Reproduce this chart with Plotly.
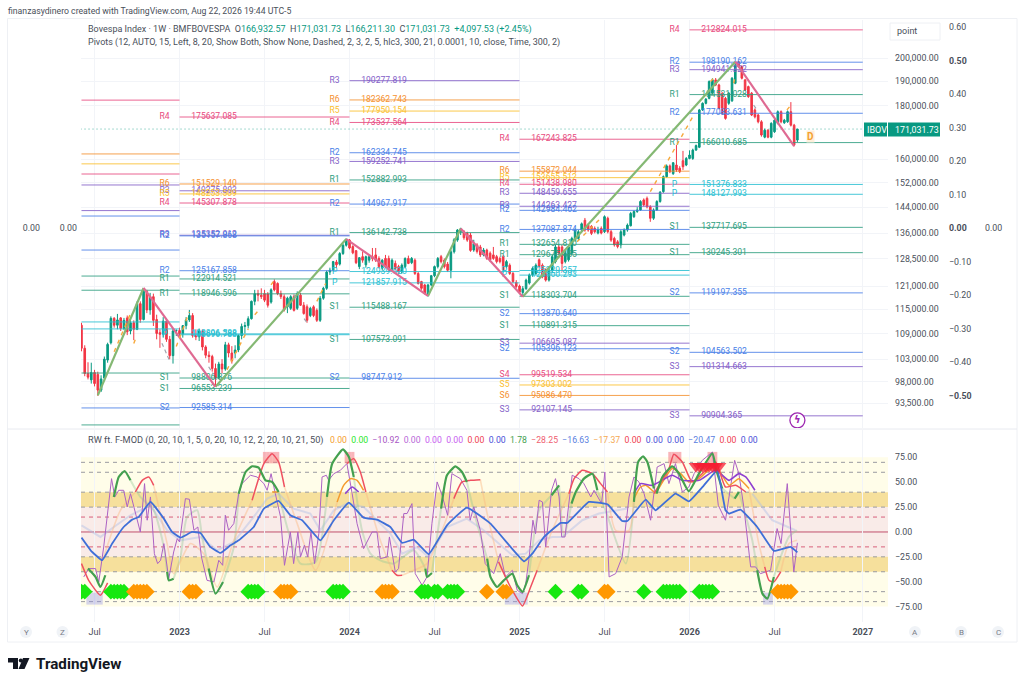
import pandas as pd
import plotly.graph_objects as go

# ---- weekly candles, in thousands of points, one row = 10 bars
opens_k = [111.0,105.5,99.8,98.4,100.0,99.6,96.2,98.8,102.8,106.8,
    112.7,111.0,112.8,110.2,112.8,109.6,111.6,110.0,116.4,112.4,
    119.6,114.8,118.2,112.4,109.2,108.8,112.0,107.6,103.8,109.6,
    109.7,108.9,110.9,112.3,113.4,108.5,108.2,109.6,105.8,103.9,
    103.6,100.9,98.8,101.9,100.8,106.3,104.4,104.4,105.1,108.5,
    110.7,110.9,112.6,117.0,119.0,118.6,119.0,118.9,116.8,122.2,
    121.7,119.0,118.2,115.6,115.2,118.2,115.2,118.6,116.0,115.6,
    113.4,115.6,114.7,112.2,117.8,120.4,124.8,125.3,127.6,127.0,
    130.0,132.4,133.9,132.0,130.8,126.3,129.1,126.8,128.1,129.1,
    129.6,128.6,125.9,128.6,128.6,125.6,127.2,126.3,124.8,126.3,
    128.6,127.4,128.1,124.4,122.2,121.3,118.6,121.3,123.8,126.3,
    129.1,128.1,127.0,125.3,130.5,133.9,136.5,136.4,135.9,135.4,
    131.0,132.5,131.9,129.6,131.0,130.1,129.6,129.1,128.6,129.1,
    126.3,126.7,124.4,122.0,121.0,119.3,120.3,121.8,124.0,124.4,
    128.2,126.7,125.3,122.6,125.3,127.7,131.9,131.9,127.7,128.2,
    130.1,134.0,134.4,136.9,139.9,138.4,138.0,137.4,136.0,137.4,
    136.4,140.5,136.4,134.4,133.4,132.5,135.4,136.9,138.2,141.0,
    142.6,143.1,146.3,146.8,144.1,140.5,143.1,145.8,149.0,154.0,
    157.7,155.0,158.0,156.9,159.5,158.0,160.3,160.3,163.3,164.3,
    178.4,181.0,183.0,185.1,190.6,188.5,185.0,183.0,181.0,182.0,
    189.2,198.4,196.3,190.6,187.8,185.1,178.4,176.4,173.8,168.0,
    170.6,168.0,170.0,173.2,177.7,173.4,173.8,177.7,172.5,166.93257]
highs_k = [111.6,106.2,102.3,102.2,100.6,100.2,99.4,103.6,106.8,113.2,
    113.0,113.8,113.0,112.8,113.4,113.0,112.2,117.0,117.0,120.4,
    120.0,119.2,119.0,113.6,110.0,113.0,112.6,108.4,110.2,110.0,
    110.4,111.0,113.0,114.8,114.0,110.0,110.2,110.0,106.2,104.8,
    104.0,102.0,102.4,103.0,107.0,106.8,106.0,106.2,108.8,111.4,
    111.8,113.2,117.2,120.0,120.0,120.4,120.0,119.4,120.4,122.8,
    122.0,119.8,118.8,118.2,118.6,118.8,119.6,119.2,116.8,116.2,
    115.6,116.0,115.2,118.4,120.8,125.2,126.0,127.9,128.2,130.4,
    132.8,134.4,134.2,132.4,131.0,129.0,130.6,129.4,129.6,131.6,
    131.6,129.2,128.4,129.6,129.4,128.6,128.0,126.8,127.2,128.9,
    129.4,129.0,128.6,124.8,122.4,121.6,121.6,124.0,126.6,129.0,
    129.6,128.6,127.6,131.0,134.5,137.2,137.6,136.9,136.4,136.0,
    134.0,133.0,132.5,131.6,131.4,130.6,131.9,129.6,129.1,129.6,
    128.2,127.2,124.8,122.6,121.4,121.0,123.0,124.4,126.3,127.2,
    128.6,127.2,125.8,125.8,129.6,132.5,132.5,132.4,130.6,132.5,
    134.9,137.4,136.9,139.2,140.6,138.9,138.4,138.0,137.9,138.0,
    141.4,141.0,136.9,134.9,133.9,136.9,137.4,138.9,142.5,143.0,
    144.0,146.2,146.8,147.4,144.6,143.6,146.2,149.2,154.4,158.2,
    158.2,159.0,165.1,157.6,163.0,160.8,163.2,163.8,165.3,178.8,
    181.4,183.1,190.4,191.3,191.4,189.0,185.6,183.6,185.6,191.8,
    198.0,198.6,196.8,191.0,188.2,185.6,179.0,176.9,174.4,171.2,
    171.0,173.6,174.9,178.2,178.2,174.9,178.2,181.5,173.0,171.03173]
lows_k = [104.8,99.2,98.5,97.6,97.0,95.0,95.8,98.4,102.2,106.4,
    110.4,110.0,109.6,109.8,108.6,108.8,107.4,109.8,111.6,112.2,
    114.0,113.6,110.8,107.6,105.6,108.0,107.0,103.0,102.0,108.4,
    108.0,108.0,110.0,111.8,108.0,107.4,107.2,105.0,103.2,102.2,
    100.2,97.0,98.6,99.8,100.4,103.4,102.0,103.2,104.6,107.6,
    109.0,110.2,112.4,116.0,117.0,117.6,116.8,115.4,116.4,119.6,
    118.6,117.6,114.4,114.0,114.8,114.4,114.8,115.8,113.6,111.6,
    113.0,113.0,111.8,111.8,117.4,120.0,124.0,125.0,126.0,126.6,
    129.6,132.0,131.2,129.8,127.0,125.6,127.4,126.0,127.4,127.8,
    127.6,125.8,125.2,125.8,124.8,125.0,125.2,124.2,124.4,125.8,
    127.0,127.0,124.0,121.4,120.0,118.8,118.2,121.0,123.4,125.8,
    127.2,125.8,124.8,123.1,130.0,133.4,135.4,134.0,133.4,130.5,
    130.5,130.0,129.0,129.2,128.2,127.6,128.2,127.2,127.2,125.0,
    125.8,124.0,121.8,120.5,118.9,118.3,120.0,121.4,123.5,124.0,
    125.8,123.1,122.2,122.2,124.9,127.2,129.6,124.9,127.2,127.7,
    129.6,133.4,133.9,136.4,136.4,136.4,135.4,135.9,135.6,135.6,
    136.0,135.9,133.4,132.0,131.5,131.5,135.0,136.4,138.0,140.6,
    142.2,142.8,144.2,143.6,139.4,140.0,142.8,145.4,148.6,153.6,
    155.2,154.6,155.6,155.2,156.3,157.6,160.0,159.8,163.0,164.0,
    178.0,180.6,182.6,184.6,188.0,178.6,176.4,174.6,180.4,181.6,
    188.8,195.8,190.8,186.0,183.2,176.0,175.1,173.2,168.2,167.6,
    167.6,167.6,169.6,172.8,173.2,173.0,173.4,172.0,164.6,166.2113]
closes_k = [105.5,99.8,99.0,100.0,97.6,96.2,98.6,103.0,106.4,112.7,
    111.0,112.3,110.2,112.2,109.4,111.6,110.0,116.4,112.4,119.6,
    114.8,118.2,112.2,109.0,108.8,112.0,107.6,103.8,109.6,109.7,
    108.9,110.9,112.3,113.4,108.5,108.2,109.6,105.8,103.9,103.6,
    100.9,98.8,101.9,100.8,106.3,104.4,102.6,105.1,108.5,110.7,
    110.9,112.6,117.0,119.0,118.6,118.2,117.3,116.0,120.0,120.0,
    119.0,118.2,114.8,117.8,118.2,114.7,119.0,116.0,113.9,112.2,
    115.2,113.4,112.2,117.8,120.4,124.8,125.3,127.7,126.8,130.0,
    132.4,133.9,131.6,130.2,127.4,128.8,128.1,129.1,129.1,128.6,
    128.1,126.3,128.1,126.3,125.3,128.1,125.8,124.8,126.7,128.6,
    127.2,128.6,124.4,121.7,120.4,119.0,121.3,123.8,126.3,128.6,
    127.7,126.3,125.3,130.5,134.0,136.9,137.1,134.6,133.9,130.9,
    132.9,130.6,129.6,131.0,128.6,128.2,128.6,127.7,127.7,125.3,
    127.7,124.4,122.2,120.9,119.4,120.3,122.6,124.0,125.8,126.7,
    126.3,123.5,122.6,125.3,129.1,131.9,130.1,127.2,130.1,131.9,
    134.4,136.9,136.4,138.8,136.9,136.9,135.9,136.4,137.0,136.0,
    141.0,136.4,133.9,132.5,132.0,136.4,136.9,138.4,142.0,142.6,
    143.1,145.8,144.7,144.1,140.5,143.1,145.8,148.8,154.0,157.7,
    155.7,158.8,156.3,155.7,157.4,160.3,161.5,163.3,164.9,178.4,
    181.0,182.7,189.9,190.6,188.5,179.0,177.0,175.1,185.1,191.3,
    197.0,196.3,191.3,186.4,183.7,176.4,175.7,173.8,168.8,170.6,
    168.0,173.2,174.4,177.7,173.8,174.4,177.7,172.5,165.1,171.03173]

# zigzag
zig_bars = [5, 19, 41, 81, 106, 116, 135, 200, 218]
zig_k = [95.1, 120.5, 96.9, 134.2, 118.4, 137.4, 118.2, 198.4, 164.7]

# little dashed guides around the candles
orange_bars = [10,15,None,16,17,None,29,33,None,44.5,51,None,53,54.7,None,58,59,None,72,74.7,None,
    151.6,159.2,None,174,187.3,None,192.4,193.9,None,199.5,200,None,215.8,217]
orange_k = [104.7,113.9,None,106.6,108.6,None,105.9,114.3,None,100.6,110.1,None,113.6,115.2,None,121.3,122.6,None,117,121.7,None,
    133.4,140.9,None,149,176.4,None,189.9,192,None,189.2,192.1,None,178.4,180.3]
gray_bars = [24.6,27.1,None,38.9,40.4,None,65,66.4,None,68.1,69.1,None,205.6,206.7]
gray_k = [106.7,102.4,None,101.3,99.6,None,118.6,117.3,None,112.6,111.5,None,180.3,178.4]

# yearly pivots: level tag, value, per block
block_2022 = ["2022-06-06", "2023-01-02"]
levels_2022 = ["R4","R6","R5","R4","R3","R3","R2","R2","R1","R1","P","P","S1","S2","S1"]
values_2022 = [182300,161900,158400,154900,151200,142900,141200,131000,123700,119900,111800,110100,99900,92500,89100]

block_2023 = ["2023-01-02", "2024-01-01"]
levels_2023 = ["R4","R6","R3","R5","R4","R3","R2","R2","R1","R1","P","P","S1","S1","S2"]
values_2023 = [175637.085,151529.140,149275.803,148253.509,145307.878,135352.012,135157.868,125167.858,122914.521,118946.596,
    108896.588,108696.788,98806.876,96553.239,92585.314]

block_2024 = ["2024-01-01", "2024-12-30"]
levels_2024 = ["R3","R6","R5","R4","R2","R3","R1","R2","R1","P","P","S1","S1","S2"]
values_2024 = [190277.819,182362.743,177950.154,173537.564,162334.745,159252.741,152882.993,144967.917,136142.738,
    124939.620,121857.915,115488.167,107573.091,98747.912]

block_2025 = ["2024-12-30", "2025-12-29"]
levels_2025 = ["R4","R6","R5","R4","R3","R3","R2","R2","R1","R1","P","P","S1","S2","S1","S3","S2","S4","S5","S6","S3"]
values_2025 = [167243.825,155872.044,153655.512,151438.980,148459.655,144263.427,142984.462,137087.874,132654.810,129675.485,
    125229.357,123960.293,118303.704,113870.640,110891.315,106695.087,105396.123,99519.534,97303.002,95086.470,92107.145]

block_2026 = ["2025-12-29", "2027-01-04"]
levels_2026 = ["R5","R4","R2","R3","R1","R2","R1","P","P","S1","S1","S2","S2","S3","S3"]
values_2026 = [218451.000,212824.015,198190.162,194941.322,184531.028,177083.631,166010.685,151376.833,148127.993,
    137717.695,130245.301,119197.355,104563.502,101314.663,90904.365]

# ---- oscillator
blue_bars = [0,2.8,6.3,9.4,12.9,15.5,17.5,21.1,25.2,27.7,30.3,33.8,36.4,39.4,42.5,45.6,48.1,52.7,55.8,60.3,63.9,67.5,73.1,77.2,81.8,
    86.3,90.4,94.5,98.1,101.6,106.2,111.8,117.9,125.1,131.7,135.4,137.9,141.5,146.6,148.6,155.2,160.9,165.4,167,172.6,175.6,
    181.7,185.8,190.4,194.5,197,198.1,201.6,206.7,211.8,216.9,219]
blue_vals = [-5.7,-18.4,-28.4,-11.7,5,12.4,15.1,30.2,13.4,0,-5.7,0,-1,-15,-21.1,-13.4,-8.4,5,23.5,31.2,16.8,11.8,-8.4,11.8,29.5,
    14.4,12.4,5,-11,-7.7,-22.4,6.7,24.5,8.4,-16.7,-29.5,-21.8,-5,9.1,9.1,30.2,27.8,11,11,32.5,21.8,
    38.6,30.8,46.9,62,21.8,18.4,22.5,5,-19,-15,-20.47]

purple_bars = [0.7,2.2,4.3,5.3,6.8,9.2,10.2,11.4,12.9,14,15,16.2,18,19.3,20.1,21.1,22.3,23.3,24.2,25.2,26.7,28.2,29.3,30,31.8,33,34.4,35.6,
    36.7,38.4,40.5,42,43.2,44,45,46.6,48.1,49.1,51.7,53.7,55.8,56.8,58,59.3,60.9,62.1,63.9,64.9,66.2,67,68.2,69.2,70.2,71.3,72.6,73.6,
    74.9,75.6,77.2,79.2,81.2,82.8,84.3,86.3,88.9,90.4,91.4,93.5,94.2,96,97,98.6,99.6,101.1,102.1,104.2,105.7,107.2,108.8,110.3,112,
    113.3,115.9,117.9,118.9,120,122,123.5,126.1,128.1,129.7,131.8,133.3,134.9,135.9,136.9,138.1,138.9,140,141,142,143.8,145,146.1,
    146.9,147.9,148.9,150.1,152.2,153.7,155.8,156.8,159.1,160.1,161.4,163.4,165.4,167.5,169,170.5,172.1,174.1,176.1,178.2,179.7,
    181.7,183.8,185.8,187.4,189.9,193,194.8,197,198.1,199.8,201.1,202.6,204.7,206.2,207.7,210.8,212.8,214,215.9,216.9,217.9,219]
purple_vals = [-45.2,-36.8,-36.8,-50.2,-15.1,53.6,35.2,41.9,41.9,25.2,38.5,23.5,0,48.6,11.8,35.2,-21.8,-31.8,-28.5,-11.7,-46.9,-20.1,-6.7,-10,33.5,32.9,1.7,5,
    -25.1,-48.6,-50.2,-28.5,-33.5,16.8,1.7,8.4,38.5,48.6,57,55.3,48.6,41.9,58.6,38.5,15.1,-33.5,0,-31.8,0,-25.1,-13.4,-25.1,0,-31.8,-1.7,55.3,
    57,52,58.6,62,68.7,38.5,8.4,-16.7,0,0,-26.8,-25.1,-5,-40.2,-36.8,18.5,18.5,28.5,-41.9,-53.6,-45.2,8.4,50.3,36.9,16.8,
    58.6,53.6,41.9,11.8,25.2,1.7,-31.8,-41.9,-21.8,-45.2,-38.5,-58.6,-62,-51.9,-26.8,11.8,-1.7,31.9,30.2,-15.1,41.9,53.6,35.2,
    -5,-5,21.8,57,53.6,48.6,35.2,41.9,28.5,60.3,-45.2,-41.9,-25.1,35.2,55.3,50.3,38.5,11.8,65.3,68.7,48.6,
    68.7,40.2,45.2,58.6,72,80.4,26.8,11.8,35.2,72,58.6,25.2,-35.1,-35.1,-41.9,-38.5,3.4,-11.7,48.6,1.7,-40.2,-10.92]

green_bars = [9.9,11.4,13.2,15,None,2,4.3,5.8,7.3,None,26.2,26.7,28.2,None,38.9,41,43.3,None,48.1,50.2,52.2,54.2,56.3,58.3,60.3,None,
    75.1,76.7,80,81.8,83.3,None,105.2,105.7,107.2,None,110,111.8,114.4,116.4,117.9,None,124.1,125.1,127.1,129.2,131.8,133.3,134.9,136.9,None,
    143.8,146.1,None,149.9,151.2,153.7,156.3,157.8,None,169,170.3,171.8,173.1,175.1,None,175.9,177.7,180.7,182.8,185.8,188.9,193,194.2,196,None,
    199.8,201.1,None,206.7,208.3,209.8,211.8]
green_vals = [35.2,55.3,61.3,51.9,None,-36.8,-45.2,-55.3,-43.5,None,-40.2,-48.6,-46.9,None,-36.8,-62,-50.2,None,38.5,60.3,66,64.7,51.9,50.3,40.2,None,
    35.2,68.7,83.1,75.4,55.3,None,-36.8,-45.2,-41.2,None,23.5,57,66,60.3,50.3,None,-26.8,-45.2,-55.3,-48.6,-41.9,-53.6,-60.3,-43.5,None,
    36.9,46.9,None,28.5,40.2,53.6,58.6,41.9,None,30.2,70.4,76.1,70.4,43.6,None,38.5,55.3,66,58.6,40.9,58.6,78.7,62,43.6,None,
    33.5,40.2,None,-38.5,-62,-67,-45.2]

red_bars = [0,2.2,5.8,8,None,16.5,18.6,20.6,22.1,None,52.2,55.8,58.3,60.3,62.1,None,81.2,83.3,85.3,87,None,95,96.5,98.1,None,
    113.9,116.4,119,122,None,127.6,129.7,131.8,134.9,137.4,139.4,None,149.1,150.7,153.2,156.3,158.8,160.9,None,
    175.1,179.7,181.2,183.8,186.8,190.4,194,197,200.1,203.2,None,209,210.3,211.8,213.9]
red_vals = [-31.8,-48.6,-63.6,-51.2,None,40.2,51.9,55.3,46.9,None,31.9,68.7,78.7,70.4,45.2,None,68.7,73.7,60.3,40.2,None,-38.5,-43.5,-43.5,None,
    33.5,50.3,51.9,52.6,None,-30.1,-45.2,-58.6,-74.3,-55.3,-38.5,None,38.5,53.6,62,58.6,48.6,40.2,None,
    38.5,63.7,78.1,70.4,50.3,60.3,70.4,45.2,46.9,40.2,None,-35.1,-48.6,-50.2,-40.2]

amber_bars = [58.3,60.3,None,78.2,80.2,82.3,84.3,86.3,None,169,171,172.6,175.1,None,175.6,178.7,180.7,183.3,185.8,188.9,193,195,198.1,201.1,204.2]
amber_vals = [40.2,40.2,None,30.2,46.9,53.6,51.9,41.9,None,33.5,45.2,46.9,40.2,None,38.5,55.3,63.7,58.6,50.3,53.6,65.4,62,46.9,53.6,43.6]

violet_bars = [80.7,82.8,84.8,None,169,171,174.6,180.7,183.8,188.9,194,198.1,201.1,203.2,206]
violet_vals = [38.5,45.2,40.2,None,38.5,48.6,46.9,57,51.9,51.9,62,51.9,58.6,55.3,41.9]

pale_blue_bars = [0,5.8,9.9,15,21.1,26.2,30.3,36.4,41.5,46.6,52.7,56.8,60.3,64.9,70,73.1,77.2,81.2,86.3,90.4,94.5,98.1,102.6,106.2,111.8,117.9,123,
    131.8,135.9,140,144,147.1,153.2,158.3,163.4,167,None,205.2,211.3,218.4]
pale_blue_vals = [6.7,-5,5,16.8,26.8,1.7,-8.4,-5,-18.4,-10,15.1,33.5,38.5,23.5,18.5,1.7,21.8,28.5,25.2,11.8,-1.7,-21.8,-15.1,-25.1,5,13.4,1.7,
    -23.4,-21.8,-8.4,-5,-5,11.8,18.5,21.8,23.5,None,38.5,11.8,1.7]
pale_green_bars = [15,18,22.1,25.2,26.2,None,28.2,30.3,32.3,35.4,36.9,38.9,None,43.3,46.6,48.1,None,60.3,62.9,67,71.6,75.1,None,
    83.3,85.8,88.4,91.4,95.5,101.6,105.2,None,107.2,110,None,117.9,121,124.1,None,136.9,140,143.8,None,146.1,147.6,149.9,None,
    157.8,160.3,166.5,169,None,196,199.8,None,201.1,205.2,206.7,None,211.8,216.4,218.9]
pale_green_vals = [51.9,35.2,21.8,-15.1,-40.2,None,-46.9,-25.1,15.1,21.8,-5,-36.8,None,-50.2,-15.1,38.5,None,40.2,5,-31.8,-30.1,35.2,None,
    55.3,1.7,-21.8,-28.5,-31.8,-18.4,-36.8,None,-41.2,23.5,None,50.3,8.4,-26.8,None,-43.5,21.8,36.9,None,46.9,-5,28.5,None,
    41.9,21.8,-31.8,30.2,None,43.6,33.5,None,40.2,-8.4,-38.5,None,-45.2,-5,1.7]
pale_orange_bars = [6.8,11.9,16.5,None,22.1,26.2,28.2,33.3,37.4,41.5,46.6,52.2,None,62.1,66,71.6,78.2,None,87,91.4,95,None,
    98.1,101.6,105.7,113.9,None,122,124.1,127.6,None,139.4,144,149.1,None,160.9,163.4,167.5,169,None,204.2,207.2,209,None,213.9,216.4,218.9]
pale_orange_vals = [-25.1,21.8,40.2,None,46.9,-11.7,-41.9,-11.7,-21.8,-55.3,-8.4,31.9,None,45.2,8.4,-38.5,30.2,None,40.2,-8.4,-38.5,None,
    -43.5,-38.5,-31.8,33.5,None,52.6,18.5,-30.1,None,-38.5,1.7,38.5,None,40.2,1.7,1.7,33.5,None,43.6,-11.7,-35.1,None,-40.2,-11.7,-8.4]

green_diamonds = [0,1,9,10,11,12,13,51,52,53,54,77,78,79,80,104,105,106,108,109,112,113,114,115,145,152,153,172,178,179,180,181,182,183,189,190,191,192,193]
orange_diamonds = [16,17,18,19,20,33,34,35,61,62,63,64,92,93,94,95,124,129,130,160,161,213,214,215,216,217]
red_triangles = [188,189,190,191,192,193,194,195]
pink_boxes = [56,57,58,59,60,81,82,83,180,181,182,183,192,193,194]
lavender_boxes = [2,3,4,5,6,130,131,132,133,134,135,136,209,210,211]

price_ticks = [200000,190000,180000,160000,152000,144000,136000,128500,121000,115000,109000,103000,98000,93500]
side_ticks = [0.6,0.5,0.4,0.3,0.2,0.1,0,-0.1,-0.2,-0.3,-0.4,-0.5]
osc_ticks = [75,50,25,0,-25,-50,-75]
time_ticks = ["2022-07-04","2023-01-02","2023-07-03","2024-01-01","2024-07-01","2024-12-30","2025-06-30","2025-12-29","2026-06-29","2027-01-04"]
time_labels = ["Jul","<b>2023</b>","Jul","<b>2024</b>","Jul","<b>2025</b>","Jul","<b>2026</b>","Jul","<b>2027</b>"]

W, H = 1024, 685
FONT = "Roboto"
GREEN, RED = "#089981", "#f23645"
level_colors = {"R1":"#2f9e80","S1":"#2f9e80","R2":"#4a7fe8","S2":"#4a7fe8","R3":"#8460c8","S3":"#8460c8",
    "R4":"#e84b80","S4":"#e84b80","R5":"#fbc02d","S5":"#fbc02d","R6":"#f59130","S6":"#f59130","P":"#28bfd2"}

start = pd.Timestamp("2022-06-06")


def bar_dates(bars):
    return [None if b is None else start + pd.Timedelta(days=7 * b) for b in bars]


def k(vals):
    return [None if v is None else v * 1000 for v in vals]


def px(x):
    return x / W


def py(y):
    return 1 - y / H


fig = go.Figure()

# pivots, older lines first so candles sit on top
blocks = [(block_2022, levels_2022, values_2022, False), (block_2023, levels_2023, values_2023, True),
          (block_2024, levels_2024, values_2024, True), (block_2025, levels_2025, values_2025, True),
          (block_2026, levels_2026, values_2026, True)]
for block, levels, values, with_text in blocks:
    b0, b1 = pd.Timestamp(block[0]), pd.Timestamp(block[1])
    for lev, val in zip(levels, values):
        col = level_colors[lev]
        fig.add_trace(go.Scatter(x=[b0, b1], y=[val, val], mode="lines", line=dict(color=col, width=1),
                                 opacity=0.85, hoverinfo="skip", cliponaxis=True))
        if with_text:
            fig.add_trace(go.Scatter(x=[b0 - pd.Timedelta(days=32), b0 + pd.Timedelta(days=25)], y=[val, val],
                                     mode="text", text=[lev, f"{val:.3f}"], textposition=["middle center", "middle right"],
                                     textfont=dict(family=FONT, size=8.6, color=col), hoverinfo="skip", cliponaxis=True))

# last price dotted
fig.add_trace(go.Scatter(x=[start - pd.Timedelta(days=2), pd.Timestamp("2027-03-01")], y=[closes_k[-1] * 1000] * 2,
                         mode="lines", line=dict(color=GREEN, width=1, dash="1px,3px"), opacity=0.7, hoverinfo="skip"))

fig.add_trace(go.Scatter(x=bar_dates(zig_bars[:2] + [None] + zig_bars[2:4] + [None] + zig_bars[4:6] + [None] + zig_bars[6:8]),
                         y=k(zig_k[:2] + [None] + zig_k[2:4] + [None] + zig_k[4:6] + [None] + zig_k[6:8]),
                         mode="lines", line=dict(color="#84b873", width=2.2), hoverinfo="skip"))
fig.add_trace(go.Scatter(x=bar_dates(zig_bars[1:3] + [None] + zig_bars[3:5] + [None] + zig_bars[5:7] + [None] + zig_bars[7:9]),
                         y=k(zig_k[1:3] + [None] + zig_k[3:5] + [None] + zig_k[5:7] + [None] + zig_k[7:9]),
                         mode="lines", line=dict(color="#df6a92", width=2.2), hoverinfo="skip"))

fig.add_trace(go.Candlestick(x=bar_dates(list(range(len(closes_k)))), open=k(opens_k), high=k(highs_k), low=k(lows_k), close=k(closes_k),
                             increasing=dict(line=dict(color=GREEN, width=1), fillcolor=GREEN),
                             decreasing=dict(line=dict(color=RED, width=1), fillcolor=RED),
                             whiskerwidth=0, hoverinfo="skip"))

fig.add_trace(go.Scatter(x=bar_dates(orange_bars), y=k(orange_k), mode="lines",
                         line=dict(color="#f7a93b", width=1.4, dash="4px,5px"), hoverinfo="skip"))
fig.add_trace(go.Scatter(x=bar_dates(gray_bars), y=k(gray_k), mode="lines",
                         line=dict(color="#a0a4ad", width=1.2, dash="4px,3px"), hoverinfo="skip"))

# lightning badge
fig.add_trace(go.Scatter(x=bar_dates([219]), y=[90000], mode="markers+text", text=["<b>ϟ</b>"], textposition="middle center",
                         textfont=dict(family="DejaVu Sans", size=10, color="#9c27b0"),
                         marker=dict(size=15, color="white", line=dict(color="#9c27b0", width=1.3)), hoverinfo="skip"))

# dummy traces so the outer scales get drawn
for ax in ["y3", "y4", "y5", "y6"]:
    fig.add_trace(go.Scatter(x=[start], y=[0], yaxis=ax, mode="markers", marker=dict(opacity=0), hoverinfo="skip"))

# oscillator
osc = dict(yaxis="y2", hoverinfo="skip")
fig.add_trace(go.Bar(x=bar_dates(pink_boxes), y=[11.5] * len(pink_boxes), base=69, width=7 * 86400000,
                     marker=dict(color="rgba(244,120,130,0.55)", line_width=0), **osc))
fig.add_trace(go.Bar(x=bar_dates(lavender_boxes), y=[12] * len(lavender_boxes), base=-73, width=7 * 86400000,
                     marker=dict(color="rgba(150,150,230,0.4)", line_width=0), **osc))
fig.add_trace(go.Scatter(x=bar_dates(pale_blue_bars), y=pale_blue_vals, mode="lines", line=dict(color="rgba(175,190,230,0.45)", width=2), **osc))
fig.add_trace(go.Scatter(x=bar_dates(pale_green_bars), y=pale_green_vals, mode="lines", line=dict(color="rgba(150,200,150,0.4)", width=2, shape="spline", smoothing=0.6), **osc))
fig.add_trace(go.Scatter(x=bar_dates(pale_orange_bars), y=pale_orange_vals, mode="lines", line=dict(color="rgba(250,185,130,0.45)", width=1.6, shape="spline", smoothing=0.6), **osc))
fig.add_trace(go.Scatter(x=bar_dates(purple_bars), y=purple_vals, mode="lines", line=dict(color="#ac62c4", width=1), **osc))
fig.add_trace(go.Scatter(x=bar_dates(amber_bars), y=amber_vals, mode="lines", line=dict(color="#f59b2e", width=1.5, shape="spline", smoothing=0.5), **osc))
fig.add_trace(go.Scatter(x=bar_dates(violet_bars), y=violet_vals, mode="lines", line=dict(color="#8e3fd0", width=1.6, shape="spline", smoothing=0.5), **osc))
fig.add_trace(go.Scatter(x=bar_dates(red_bars), y=red_vals, mode="lines", line=dict(color="#ef5060", width=1.5, shape="spline", smoothing=0.5), **osc))
fig.add_trace(go.Scatter(x=bar_dates(green_bars), y=green_vals, mode="lines", line=dict(color="#43a04f", width=2.2, shape="spline", smoothing=0.5), **osc))
fig.add_trace(go.Scatter(x=bar_dates(blue_bars), y=blue_vals, mode="lines", line=dict(color="#3f6fd8", width=1.8, shape="spline", smoothing=0.3), **osc))
fig.add_trace(go.Scatter(x=bar_dates(green_diamonds), y=[-60] * len(green_diamonds), mode="markers",
                         marker=dict(symbol="diamond", size=12, color="#17e80f"), **osc))
fig.add_trace(go.Scatter(x=bar_dates(orange_diamonds), y=[-60] * len(orange_diamonds), mode="markers",
                         marker=dict(symbol="diamond", size=12, color="#ff9800"), **osc))
fig.add_trace(go.Scatter(x=bar_dates(red_triangles), y=[66] * len(red_triangles), mode="markers",
                         marker=dict(symbol="triangle-down", size=13, color="rgba(245,30,50,0.75)"), **osc))

X0, X1 = start - pd.Timedelta(days=1), start + pd.Timedelta(days=1727)
x_rng = [X0, X1]
tick_font = dict(family=FONT, size=8.8, color="#4a4f5a")
side_text = [("<b>%s</b>" if t in (0.5, 0, -0.5) else "%s") % f"{t:.2f}".replace("-", "\u2212") for t in side_ticks]
side_rng = [-0.597, 0.621]


def side_axis(pos, side, vals, text):
    return dict(overlaying="y", anchor="free", position=pos, side=side, range=side_rng, tickvals=vals, ticktext=text,
                showgrid=False, zeroline=False, showline=False, ticks="", tickfont=tick_font)


fig.update_layout(
    width=W, height=H, margin=dict(l=0, r=0, t=0, b=0), paper_bgcolor="white", plot_bgcolor="rgba(0,0,0,0)",
    showlegend=False, barmode="overlay", hovermode=False, font=dict(family=FONT),
    xaxis=dict(domain=[px(81), px(888)], range=x_rng, type="date", anchor="y2", tickvals=time_ticks, ticktext=time_labels,
               tickfont=dict(family=FONT, size=9, color="#4a4f5a"), showgrid=True, gridcolor="#f2f4f8", gridwidth=1,
               zeroline=False, showline=False, ticks="", rangeslider=dict(visible=False), ticklabelstandoff=3),
    yaxis=dict(domain=[py(428), py(20)], type="log", range=[4.94694, 5.33746], side="right", tickvals=price_ticks,
               ticktext=[f"{t:,.2f}" for t in price_ticks], tickfont=tick_font, showgrid=True, gridcolor="#f2f4f8",
               zeroline=False, showline=False, ticks="", ticklabelstandoff=6),
    yaxis2=dict(domain=[py(622), py(430)], range=[-90.5, 102.5], side="right", tickvals=osc_ticks,
                ticktext=[f"{t:.2f}".replace("-", "\u2212") for t in osc_ticks], tickfont=tick_font, showgrid=False,
                zeroline=False, showline=False, ticks="", ticklabelstandoff=6),
    yaxis3=side_axis(px(948), "right", side_ticks, side_text),
    yaxis4=side_axis(px(984), "right", [0], ["0.00"]),
    yaxis5=side_axis(px(40), "left", [0], ["0.00"]),
    yaxis6=side_axis(px(77), "left", [0], ["0.00"]),
)

# frame and oscillator zones, under the traces
shapes = [
    dict(type="rect", xref="paper", yref="paper", x0=px(7.5), x1=px(1017), y0=py(642), y1=py(18.5),
         line=dict(color="#eef0f4", width=1), fillcolor="white", layer="below"),
    dict(type="line", xref="paper", yref="paper", x0=px(7.5), x1=px(1017), y0=py(429), y1=py(429),
         line=dict(color="#e8eaf0", width=1), layer="below"),
]
for lo, hi, col in [(-75, 75, "#fffde9"), (-25, 25, "#f9ebe8"), (25, 40, "#f6e09c"), (-40, -25, "#f6e09c")]:
    shapes.append(dict(type="rect", xref="x domain", yref="y2", x0=0, x1=1, y0=lo, y1=hi, fillcolor=col, line_width=0, layer="below"))
for lvl, col, dash in [(70, "#9a9aa0", "4px,4px"), (60, "#9a9aa0", "4px,4px"), (40, "#9a9aa0", "4px,4px"), (25, "#9a9aa0", "4px,4px"),
                       (15, "#d8607c", "4px,4px"), (0, "#c0506c", "solid"), (-15, "#d8607c", "4px,4px"),
                       (-25, "#9a9aa0", "4px,4px"), (-40, "#9a9aa0", "4px,4px"), (-60, "#9a9aa0", "4px,4px"), (-70, "#9a9aa0", "4px,4px")]:
    shapes.append(dict(type="line", xref="x domain", yref="y2", x0=0, x1=1, y0=lvl, y1=lvl, line=dict(color=col, width=1, dash=dash), layer="below"))
# tradingview mark
shapes.append(dict(type="path", xref="paper", yref="paper", fillcolor="#131722", line_width=0,
                   path=f"M{px(8)},{py(658)} L{px(18)},{py(658)} L{px(18)},{py(669)} L{px(13)},{py(669)} L{px(13)},{py(662.5)} L{px(8)},{py(662.5)} Z "
                        f"M{px(23)},{py(658)} L{px(29.5)},{py(658)} L{px(24.5)},{py(669)} L{px(18.5)},{py(669)} Z"))
shapes.append(dict(type="circle", xref="paper", yref="paper", x0=px(18.8), x1=px(22.8), y0=py(662.5), y1=py(658.5), fillcolor="#131722", line_width=0))
# badges
badge_x = {"Y": 26, "Z": 62.5, "A": 915, "B": 961, "C": 998}
for name, cx in badge_x.items():
    shapes.append(dict(type="circle", xref="paper", yref="paper", x0=px(cx - 6), x1=px(cx + 6), y0=py(638), y1=py(626),
                       fillcolor="#f0f3f7", line_width=0, layer="below"))
# price scale tag and last price boxes
shapes.append(dict(type="rect", xref="paper", yref="paper", x0=px(890), x1=px(940), y0=py(40), y1=py(23),
                   line=dict(color="#eef0f4", width=1), fillcolor="white", layer="below"))
for x0, x1 in [(864, 887), (888, 940)]:
    shapes.append(dict(type="rect", xref="paper", yref="paper", x0=px(x0), x1=px(x1), y0=py(136.5), y1=py(122.5),
                       line_width=0, fillcolor=GREEN))
fig.update_layout(shapes=shapes)


def note(x, y, text, size=10, color="#4a4f5a", anchor="left", **kw):
    fig.add_annotation(xref="paper", yref="paper", x=px(x), y=py(y), text=text, showarrow=False, xanchor=anchor, yanchor="middle",
                       font=dict(family=FONT, size=size, color=color), borderpad=0, **kw)


def span(text, col):
    return f'<span style="color:{col}">{text}</span>'


note(7, 11, "finanzasydinero created with TradingView.com, Aug 22, 2026 19:44 UTC-5", size=8.7)
note(87, 29.5, "Bovespa Index · 1W · BMFBOVESPA  O" + span("166,932.57", GREEN) + "  H" + span("171,031.73", GREEN) + "  L"
     + span("166,211.30", GREEN) + "  C" + span("171,031.73", GREEN) + "  " + span("+4,097.53 (+2.45%)", GREEN), size=9)
note(87, 42, "Pivots (12, AUTO, 15, Left, 8, 20, Show Both, Show None, Dashed, 2, 3, 2, 5, hlc3, 300, 21, 0.0001, 10, close, Time, 300, 2)", size=9)

osc_values = [("0.00", "#f5a030"), ("0.00", "#2be82b"), ("\u221210.92", "#a855c4"), ("0.00", "#b868d8"), ("0.00", "#c860f0"),
              ("0.00", "#c860f0"), ("0.00", "#ef4050"), ("0.00", "#4a4fd8"), ("1.78", "#43a04f"), ("\u221228.25", "#ef6070"),
              ("\u221216.63", "#5a80e0"), ("\u221217.37", "#f5a850"), ("0.00", "#ef4050"), ("0.00", "#4a4fd8"), ("0.00", "#4a4fd8"),
              ("\u221220.47", "#5a80e0"), ("0.00", "#ef4050"), ("0.00", "#4a4fd8")]
note(87, 440, "RW ft. F-MOD (0, 20, 10, 1, 5, 0, 20, 10, 12, 2, 20, 10, 21, 50)", size=9.2)
note(329, 440, "  ".join(span(t, c) for t, c in osc_values), size=8.7)

note(896, 31.5, "point", size=9)
note(866, 129.5, "IBOV", size=9, color="white")
note(894, 129.5, "171,031.73", size=8.8, color="white")
note(810, 136, "<b>D</b>", size=10, color="#f5a030", anchor="center", bgcolor="#fdf0dc")
for name, cx in badge_x.items():
    note(cx, 632, name, size=8, color="#787b86", anchor="center")
note(35, 664, "<b>TradingView</b>", size=15.2, color="#131722")

fig.write_html("out.html", post_script="document.body.style.margin='0'", config=dict(displayModeBar=False))
